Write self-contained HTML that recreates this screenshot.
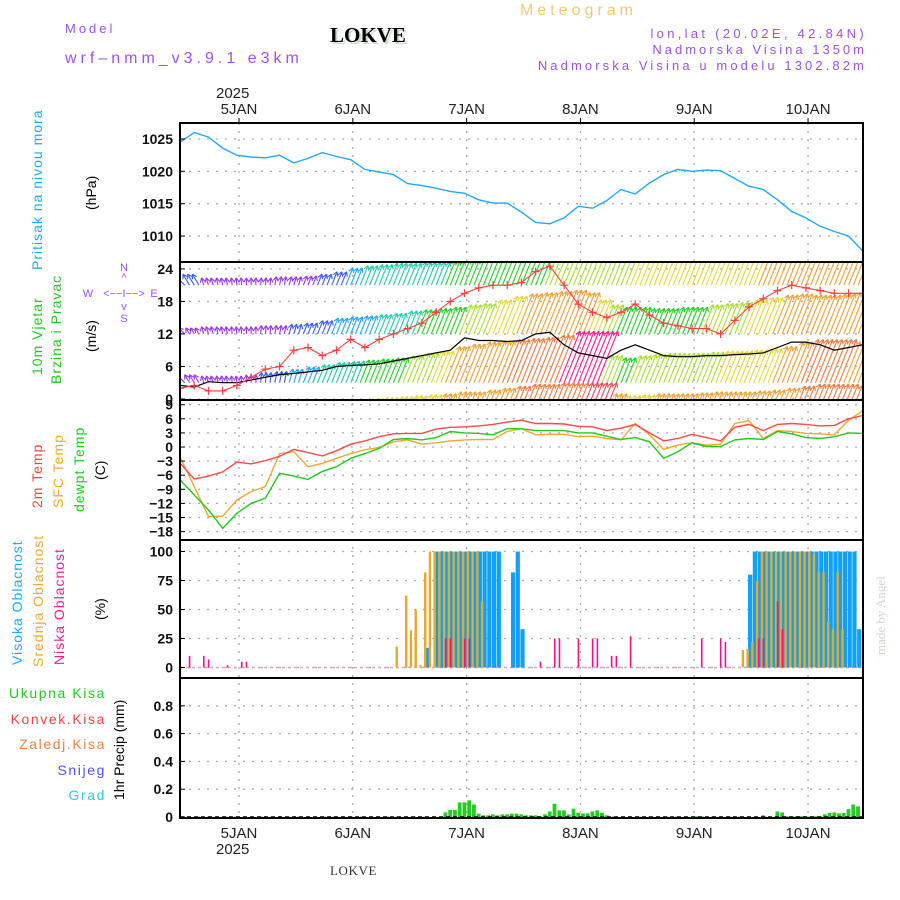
<!DOCTYPE html>
<html><head><meta charset="utf-8"><style>
html,body{margin:0;padding:0;background:#fff;}
svg{display:block;font-family:"Liberation Sans",sans-serif;}
</style></head><body>
<svg id="chart" width="900" height="900" viewBox="0 0 900 900" xmlns="http://www.w3.org/2000/svg">
<defs>
<clipPath id="cp1"><rect x="180" y="123" width="683" height="139"/></clipPath>
<clipPath id="cp2"><rect x="180" y="262" width="683" height="138"/></clipPath>
<clipPath id="cp3"><rect x="180" y="400" width="683" height="140"/></clipPath>
<clipPath id="cp4"><rect x="180" y="540" width="683" height="138"/></clipPath>
<clipPath id="cp5"><rect x="180" y="678" width="683" height="140"/></clipPath>
</defs>
<g>
<text x="520" y="15" font-size="16" fill="#f0c878" letter-spacing="4">Meteogram</text>
<text x="65" y="33" font-size="13" fill="#a050f0" letter-spacing="3">Model</text>
<text x="332" y="44" font-size="21" font-weight="bold" font-family="Liberation Serif,serif" fill="#ccd8cc">LOKVE</text>
<text x="330" y="42" font-size="21" font-weight="bold" font-family="Liberation Serif,serif" fill="#000">LOKVE</text>
<text x="65" y="63" font-size="16" fill="#a050f0" letter-spacing="4">wrf–nmm_v3.9.1 e3km</text>
<text x="867" y="38" font-size="13" fill="#a050e0" text-anchor="end" letter-spacing="3.3">lon,lat (20.02E, 42.84N)</text>
<text x="867" y="54" font-size="13" fill="#a050e0" text-anchor="end" letter-spacing="3">Nadmorska Visina 1350m</text>
<text x="867" y="70" font-size="13" fill="#a050e0" text-anchor="end" letter-spacing="3.1">Nadmorska Visina u modelu 1302.82m</text>
</g>
<g id="grid"></g>
<g id="marks"></g>
<g id="axes"></g>
<g id="labels">
<text transform="translate(42,270) rotate(-90)" font-size="14" fill="#20a8f8" letter-spacing="1">Pritisak na nivou mora</text>
<text transform="translate(96,210) rotate(-90)" font-size="14" fill="#000">(hPa)</text>
<text transform="translate(42,375) rotate(-90)" font-size="14" fill="#20c820" letter-spacing="1">10m Vjetar</text>
<text transform="translate(61,384) rotate(-90)" font-size="14" fill="#20c820" letter-spacing="1">Brzina i Pravac</text>
<text transform="translate(96,352) rotate(-90)" font-size="14" fill="#000">(m/s)</text>
<g font-size="11" fill="#a050f0">
<text x="124" y="271" text-anchor="middle">N</text>
<text x="124" y="281" text-anchor="middle">^</text>
<text x="124" y="297" text-anchor="middle">&lt;−−I−−&gt;</text>
<text x="88" y="297" text-anchor="middle">W</text>
<text x="154" y="297" text-anchor="middle">E</text>
<text x="124" y="310" text-anchor="middle">v</text>
<text x="124" y="322" text-anchor="middle">S</text>
</g>
<text transform="translate(42,508) rotate(-90)" font-size="14" fill="#ff4040" letter-spacing="1">2m Temp</text>
<text transform="translate(63,508) rotate(-90)" font-size="14" fill="#f0a830" letter-spacing="1">SFC Temp</text>
<text transform="translate(84,512) rotate(-90)" font-size="14" fill="#20c820" letter-spacing="1">dewpt Temp</text>
<text transform="translate(105,480) rotate(-90)" font-size="14" fill="#000">(C)</text>
<text transform="translate(22,665) rotate(-90)" font-size="14" fill="#20a8f8" letter-spacing="1">Visoka Oblacnost</text>
<text transform="translate(43,667) rotate(-90)" font-size="14" fill="#f0a830" letter-spacing="1">Srednja Oblacnost</text>
<text transform="translate(64,665) rotate(-90)" font-size="14" fill="#f0208a" letter-spacing="1">Niska Oblacnost</text>
<text transform="translate(105,620) rotate(-90)" font-size="14" fill="#000">(%)</text>
<text x="106" y="698" font-size="14" fill="#20c820" text-anchor="end" letter-spacing="1.6">Ukupna  Kisa</text>
<text x="106" y="724" font-size="14" fill="#ff4040" text-anchor="end" letter-spacing="1.6">Konvek.Kisa</text>
<text x="106" y="749" font-size="14" fill="#f08040" text-anchor="end" letter-spacing="1.6">Zaledj.Kisa</text>
<text x="106" y="775" font-size="14" fill="#5050ff" text-anchor="end" letter-spacing="1.6">Snijeg</text>
<text x="106" y="800" font-size="14" fill="#30c8d8" text-anchor="end" letter-spacing="1.6">Grad</text>
<text transform="translate(124,800) rotate(-90)" font-size="14" fill="#000">1hr Precip (mm)</text>
<text x="330" y="875" font-size="13" font-family="Liberation Serif,serif" fill="#333" letter-spacing="0.6">LOKVE</text>
<text transform="translate(885,655) rotate(-90)" font-size="13" font-family="Liberation Serif,serif" fill="#cdd8cd">made by Angel</text>
<text x="216" y="98" font-size="15" fill="#222">2025</text>
<text x="216" y="854" font-size="15" fill="#222">2025</text>
</g>
</svg>
<script>
// ---------- data (3-hourly unless noted) ----------
const dayLabels = ["5JAN","6JAN","7JAN","8JAN","9JAN","10JAN"];
const pressure = [1024.5,1026,1025.3,1023.6,1022.5,1022.2,1022.1,1022.5,1021.3,1022,1022.9,1022.3,1021.8,1020.3,1019.9,1019.5,1018.1,1017.8,1017.4,1016.9,1016.6,1015.6,1015.1,1015.1,1013.7,1012.1,1011.9,1012.8,1014.6,1014.3,1015.5,1017.2,1016.5,1018.2,1019.5,1020.3,1020,1020.2,1020.1,1018.9,1017.7,1017.2,1015.6,1013.8,1012.8,1011.5,1010.7,1010,1007.7];
const pressureTicks = [1010,1015,1020,1025];
const windMean = [2.5,2.2,3.2,3,3,3.5,4,4.5,4.7,5,5.3,6,6.2,6.3,6.5,7,7.5,8,8.5,9,11.3,10.8,10.8,10.6,10.8,12,12.3,10,8.5,8,7.5,9,10,9,8,7.8,7.8,8,8,8.2,8.3,8.5,9.5,10.5,10.5,10,9,9.5,10];
const windGust = [2,2.5,1.5,1.5,2.5,4,5.5,6,9,9.5,8,9,11,9.5,11,12,13,14,16,18,19.5,20.5,21,21,21.5,23.5,24.5,21,17.5,16,15,16,17.5,15.5,14,13.5,13,13,12,14.5,17,18.5,20,21,20.5,20,19.5,19.5,19.5];
const windTicks = [0,6,12,18,24];
const windDir = [-1.0,-0.6,-0.3,-0.2,-0.1,0,0.1,0.2,0.3,0.4,0.4,0.4,0.4,0.4,0.4,0.4,0.4,0.4,0.4,0.4,0.4,0.4,0.4,0.4,0.4,0.4,0.4,0.4,0.4,0.4,0.4,0.4,0.4,0.4,0.4,0.4,0.4,0.4,0.4,0.4,0.4,0.4,0.4,0.4,0.4,0.4,0.4,0.4,0.4];
const windLevelA = [5,4.5,3,3,3,3,3,3.5,3.5,3.8,4.5,5.5,7,8,8.5,9,9,9.5,9.5,10,10.5,11,11,11,11.5,11.5,12,12.5,13,13,13.5,13.5,14,14.5,15,15,15,15,15.5,15.5,15.5,16,16.5,16.5,17,17,16.5,16.5,16];
const windLevelB = [2.5,2.5,3,3,3,3,3.5,3.5,4,4.5,5.5,6.5,7,7.5,8,8.5,9.5,10,10.5,11,12,12.5,14,15.5,16.5,17,17.5,18,17,14,12,11,11,10.5,10.5,11,11,12,12.5,13,14,15,16,16.5,16,16,16.5,17,17];
const windLevelC = [4.5,3.5,3,3,3,3.5,4.5,5,6,7,8,9,9.5,10,10.5,11,12,13,14,16,17,18,18.5,19,19.5,20,21,27,28,27,12,11,12,12.5,13,13,13,13.5,14,14,14.5,15,16,18,19,19,19,18,17];
const windLevelD = [0,0,0,0,0,0,0,0,0,0,0,0,17,17.5,18,18.5,19,19.5,20,21,21,22,23,24,25,25,26,27,28,28,20,19,19.5,20,20,20,20.5,21,21,21,21.5,22,23,24,25,25,25,24,24];
const temp2m = [-3.4,-6.8,-6.2,-5.3,-3.2,-3.6,-2.9,-2.0,-0.5,-1.2,-1.9,-0.8,0.6,1.3,2.2,2.8,2.9,2.9,3.8,4.2,4.3,4.5,4.8,5.3,5.7,5.0,5.0,4.9,4.4,4.3,3.5,4.0,4.8,3.0,1.3,1.8,2.7,2.0,1.3,4.2,4.8,3.5,4.8,5.0,4.8,4.5,4.6,6.0,6.7];
const tempSfc = [-2.1,-8.4,-14.8,-14.7,-11.3,-9.5,-8.4,-1.4,-1.0,-4.2,-3.5,-2.4,-1.4,-0.6,-0.1,1.1,1.5,0.6,0.9,1.3,1.5,1.6,1.6,3.3,3.9,2.6,2.7,2.7,2.2,2.3,1.8,1.5,5.0,2.6,-0.5,0.4,0.9,0.4,0.6,5.0,5.6,1.8,3.5,3.3,2.9,2.8,2.6,5.7,7.7];
const dewpt = [-7.0,-10.2,-13.4,-17.3,-14.1,-12.0,-10.9,-5.6,-6.2,-6.9,-5.2,-4.2,-2.4,-1.4,-0.3,1.6,1.8,1.5,2.0,3.3,3.0,2.9,2.6,3.9,3.9,3.5,3.5,3.5,3.0,3.0,2.3,1.6,2.0,1.1,-2.4,-1.0,0.9,0.1,0.1,1.5,1.8,1.6,3.3,2.8,2.0,1.8,2.2,3.0,2.9];
const tempTicks = [-18,-15,-12,-9,-6,-3,0,3,6,9];
// hourly cloud / precip (hour index, value)
const highCloudHours = [52,54,55,56,57,58,59,60,61,62,63,64,65,66,67,70,71,72,120,121,122,123,124,125,126,127,128,129,130,131,132,133,134,135,136,137,138,139,140,141,142,143];
const highCloudVals  = [17,100,100,100,100,100,100,100,100,100,100,100,100,100,100,82,100,33,80,100,100,100,100,100,100,100,100,100,100,100,100,100,100,100,100,100,100,100,100,100,100,33];
const midCloudHours = [46,48,49,50,51,52,53,54,55,56,57,58,59,60,61,62,63,64,119,120,121,122,123,124,125,126,127,128,129,130,131,132,133,134,135,136,137,138,139,140];
const midCloudVals  = [18,62,32,50,2,82,100,100,100,100,100,100,100,100,100,100,100,57,15,16,22,75,100,100,100,100,100,100,100,100,100,100,100,98,82,82,39,33,82,33];
const lowCloudHours = [2,5,6,10,13,14,56,57,60,61,76,79,80,84,87,88,91,92,95,110,114,115,122,123,126,127];
const lowCloudVals  = [10,10,7,2,5,5,25,25,25,25,5,25,25,25,25,25,10,10,27,25,25,22,25,25,57,33];
const cloudTicks = [0,25,50,75,100];
const precipHours = [56,57,58,59,60,61,62,63,64,65,66,67,68,69,70,71,72,73,74,75,76,77,78,79,80,81,82,83,84,85,86,87,88,89,90,109,123,126,127,128,129,130,131,132,133,134,135,136,137,138,139,140,141,142,143];
const precipVals  = [0.033,0.052,0.052,0.105,0.105,0.12,0.09,0.024,0.012,0.012,0.019,0.012,0.019,0.019,0.024,0.024,0.019,0.012,0.012,0.012,0.005,0.019,0.04,0.095,0.048,0.048,0.019,0.06,0.031,0.026,0.026,0.04,0.048,0.031,0.012,0.005,0.012,0.04,0.033,0.005,0.005,0.005,0.005,0.005,0.005,0.005,0.005,0.019,0.029,0.033,0.026,0.029,0.057,0.09,0.076];
const precipTicks = [0,0.2,0.4,0.6,0.8];

// ---------- scales ----------
const X0 = 180, X1 = 863, PXH = 4.742, DAY0 = 12.44;
const X = h => X0 + PXH * h;
const Yp = p => 139 + (1025 - p) * 6.47;
const Yw = v => 399 - v * 5.42;
const Yt = t => 447 - t * 4.7;
const Yc = c => 667.5 - c * 1.16;
const Yr = r => 817 - r * 139;
const NS = "http://www.w3.org/2000/svg";
function mk(tag, attrs, parent) {
  const e = document.createElementNS(NS, tag);
  for (const k in attrs) e.setAttribute(k, attrs[k]);
  parent.appendChild(e);
  return e;
}
const grid = document.getElementById('grid');
const marks = document.getElementById('marks');
const axes = document.getElementById('axes');
const panels = [[123,262],[262,400],[400,540],[540,678],[678,818]];

dayLabels.forEach((d, i) => {
  const x = X(DAY0 + 24 * i);
  const gl = mk('line', {x1:x, y1:123, x2:x, y2:818, stroke:'#aaa', 'stroke-width':1.3, 'stroke-dasharray':'2,6'}, grid);
  
  
  const t1 = mk('text', {x:x, y:114, 'font-size':15, 'text-anchor':'middle', fill:'#222'}, axes);
  t1.textContent = d;
  
  
  const t2 = mk('text', {x:x, y:838, 'font-size':15, 'text-anchor':'middle', fill:'#222'}, axes);
  t2.textContent = d;
  
  
  mk('line', {x1:x, y1:118, x2:x, y2:123, stroke:'#000'}, axes);
});

function yTicks(ticks, yf, fmt, name) {
  ticks.forEach(v => {
    const y = yf(v);
    const g = mk('line', {x1:X0, y1:y, x2:X1, y2:y, stroke:'#aaa', 'stroke-width':1.3, 'stroke-dasharray':'2,7'}, grid);
    
    
    mk('line', {x1:X0, y1:y, x2:X0 + 5, y2:y, stroke:'#000'}, axes);
    const t = mk('text', {x:173, y:y + 5, 'font-size':14, 'font-weight':'bold', 'text-anchor':'end', fill:'#111'}, axes);
    t.textContent = fmt(v);
    
    
  });
}
yTicks(pressureTicks, Yp, v => v, 'pressure');
yTicks(windTicks, Yw, v => v, 'wind');
yTicks(tempTicks, Yt, v => (v < 0 ? '−' + Math.abs(v) : v), 'temp');
yTicks(cloudTicks, Yc, v => v, 'cloud');
yTicks(precipTicks, Yr, v => v, 'precip');

function linePath(arr, yf) {
  return arr.map((v, i) => (i ? 'L' : 'M') + X(3 * i).toFixed(1) + ',' + yf(v).toFixed(1)).join('');
}

const pl = mk('path', {d:linePath(pressure, Yp), fill:'none', stroke:'#20a8f8', 'stroke-width':1.4, 'clip-path':'url(#cp1)'}, marks);



function windColor(s) {
  if (s < 4) return '#9a35f0';
  if (s < 6) return '#3a5cff';
  if (s < 8) return '#1ea4ff';
  if (s < 10) return '#20cca8';
  if (s < 12) return '#22d022';
  if (s < 14) return '#a8e030';
  if (s < 16) return '#e6d830';
  if (s < 19) return '#f0a030';
  if (s < 22) return '#f07a40';
  if (s < 26) return '#f04858';
  return '#ff1898';
}
const rows = [
  {data:windLevelA, base:21, k:0.45, cap:20, cs:1},
  {data:windLevelB, base:12, k:0.45, cap:9, cs:1},
  {data:windLevelC, base:3, k:0.42, cap:9.5, cs:1},
  {data:windLevelD, base:-6, k:0.35, cap:9, cs:0.8}
];
const wg = mk('g', {'clip-path':'url(#cp2)'}, marks);


rows.forEach(r => {
  r.data.forEach((s, i) => {
    if (s <= 0) return;
    const len = Math.min(s * r.k, r.cap) * 5.42;
    const col = windColor(s * r.cs);
    for (let k = 0; k < 3; k++) {
      const x0 = X(3 * i + k - 1), y0 = Yw(r.base);
      const dx = windDir[i] * len, x1 = x0 + dx, y1 = y0 - len;
      const ln = mk('line', {x1:x0, y1:y0, x2:x1, y2:y1, stroke:col, 'stroke-width':1.1}, wg);
      
      
      const ang = Math.atan2(y1 - y0, x1 - x0);
      [2.6, -2.6].forEach(o => {
        mk('line', {x1:x1, y1:y1, x2:x1 - 5 * Math.cos(ang + o * 0.2), y2:y1 - 5 * Math.sin(ang + o * 0.2), stroke:col, 'stroke-width':1.1}, wg);
      });
    }
  });
});
const wm = mk('path', {d:linePath(windMean, Yw), fill:'none', stroke:'#000', 'stroke-width':1.2, 'clip-path':'url(#cp2)'}, marks);


const gl = mk('path', {d:linePath(windGust, Yw), fill:'none', stroke:'#ff4040', 'stroke-width':1.1, 'clip-path':'url(#cp2)'}, marks);


windGust.forEach((v, i) => {
  const x = X(3 * i), y = Yw(v);
  const m = mk('path', {d:`M${x-4},${y}H${x+4}M${x},${y-4}V${y+4}`, stroke:'#ff4040', 'stroke-width':1.2, 'clip-path':'url(#cp2)'}, marks);
  
  
});

[[tempSfc, '#f0a830', 'sfc-temp-line'], [dewpt, '#20c820', 'dewpoint-line'], [temp2m, '#ff4848', 'temp-2m-line']].forEach(([a, c, n]) => {
  const p = mk('path', {d:linePath(a, Yt), fill:'none', stroke:c, 'stroke-width':1.4, 'clip-path':'url(#cp3)'}, marks);
  
  
});

const cg = mk('g', {'clip-path':'url(#cp4)'}, marks);


mk('line', {x1:X0, y1:Yc(0), x2:X1, y2:Yc(0), stroke:'#e0a0c0', 'stroke-width':1.5, 'stroke-dasharray':'3,3'}, cg);
highCloudHours.forEach((h, i) => {
  const b = mk('rect', {x:X(h) - 1, y:Yc(highCloudVals[i]), width:4.2, height:Yc(0) - Yc(highCloudVals[i]), fill:'#10a0f8'}, cg);
  
  
});
midCloudHours.forEach((h, i) => {
  const b = mk('rect', {x:X(h) - 2.6, y:Yc(midCloudVals[i]), width:2.4, height:Yc(0) - Yc(midCloudVals[i]), fill:'#e8a828'}, cg);
  
  
});
lowCloudHours.forEach((h, i) => {
  const b = mk('rect', {x:X(h) - 0.7, y:Yc(lowCloudVals[i]), width:1.6, height:Yc(0) - Yc(lowCloudVals[i]), fill:'#f0108a'}, cg);
  
  
});

const rg = mk('g', {'clip-path':'url(#cp5)'}, marks);


precipHours.forEach((h, i) => {
  const b = mk('rect', {x:X(h) - 2, y:Yr(precipVals[i]), width:3.8, height:Yr(0) - Yr(precipVals[i]), fill:'#22cc22'}, rg);
  
  
});
mk('line', {x1:X0, y1:Yr(0), x2:X1, y2:Yr(0), stroke:'#000', 'stroke-width':1.5, 'stroke-dasharray':'4,3'}, rg);

panels.forEach(([a, b], i) => {
  const f = mk('rect', {x:X0, y:a, width:X1 - X0, height:b - a, fill:'none', stroke:'#000', 'stroke-width':2}, axes);
  
  
});
</script>
</body></html>
